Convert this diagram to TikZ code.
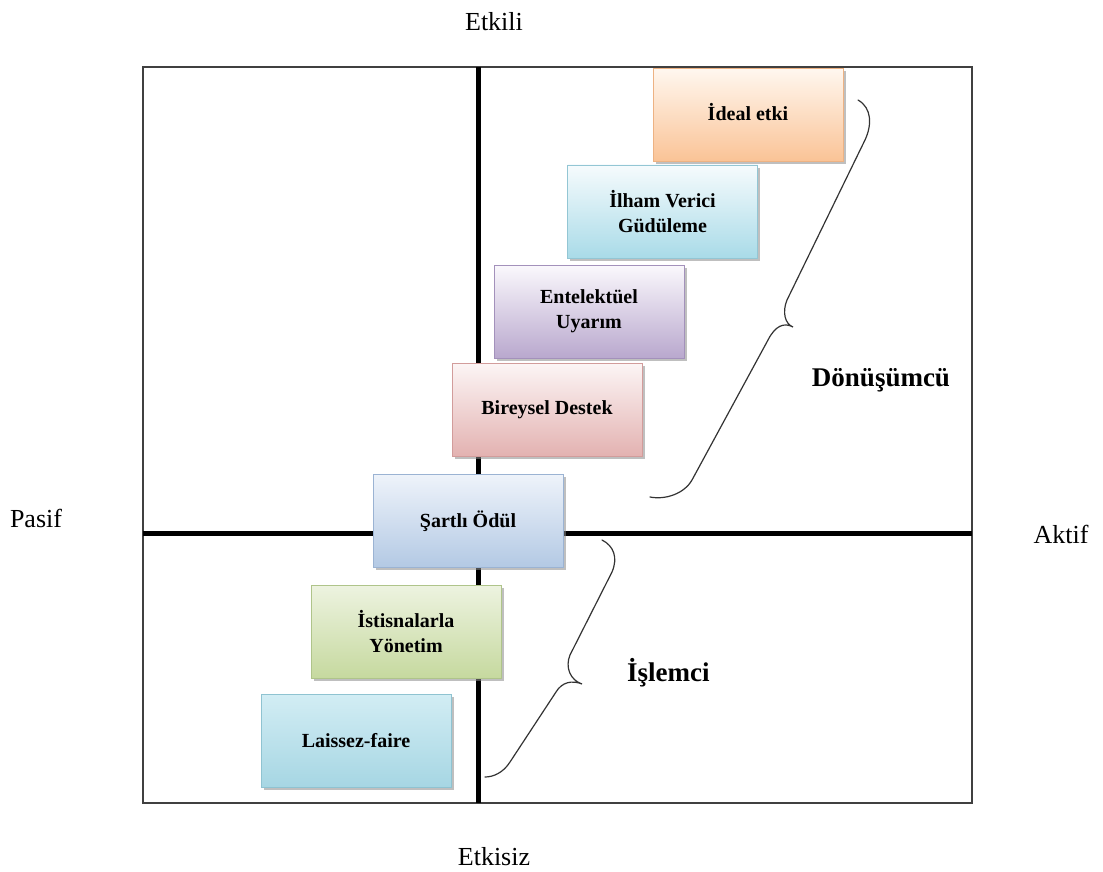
\documentclass[tikz,border=0pt]{standalone}
\usepackage{fontspec}
\setmainfont{Liberation Serif}
\usetikzlibrary{shadows}
\definecolor{orT}{HTML}{FFF7EF}\definecolor{orB}{HTML}{FAC396}\definecolor{orD}{HTML}{EDB283}
\definecolor{cyT}{HTML}{F6FBFD}\definecolor{cyB}{HTML}{A9DBE8}\definecolor{cyD}{HTML}{93C6D4}
\definecolor{puT}{HTML}{FAF8FC}\definecolor{puB}{HTML}{B9A8CE}\definecolor{puD}{HTML}{A391BB}
\definecolor{piT}{HTML}{FCF5F5}\definecolor{piB}{HTML}{E3B2B1}\definecolor{piD}{HTML}{D29C9B}
\definecolor{blT}{HTML}{EEF3FA}\definecolor{blB}{HTML}{B3C9E4}\definecolor{blD}{HTML}{9BB3D3}
\definecolor{grT}{HTML}{EDF3E0}\definecolor{grB}{HTML}{C6D99F}\definecolor{grD}{HTML}{AFC48A}
\definecolor{lfT}{HTML}{D2EDF4}\definecolor{lfB}{HTML}{A6D6E3}\definecolor{lfD}{HTML}{8FC3D1}
\begin{document}
\begin{tikzpicture}[x=1pt,y=-1pt,
  box/.style={minimum width=190pt, minimum height=93pt, inner sep=0pt, align=center,
    font=\fontsize{20}{25}\selectfont\bfseries, line width=0.8pt,
    drop shadow={shadow xshift=2.5pt, shadow yshift=-2.5pt, fill=black!45, opacity=0.55}},
  idealbox/.style={box, top color=orT, bottom color=orB, draw=orD},
  ilhambox/.style={box, top color=cyT, bottom color=cyB, draw=cyD},
  entelbox/.style={box, top color=puT, bottom color=puB, draw=puD},
  bireybox/.style={box, top color=piT, bottom color=piB, draw=piD},
  sartbox/.style={box, top color=blT, bottom color=blB, draw=blD},
  istisbox/.style={box, top color=grT, bottom color=grB, draw=grD},
  laissbox/.style={box, top color=lfT, bottom color=lfB, draw=lfD},
  axislabel/.style={font=\fontsize{26}{30}\selectfont, inner sep=0pt},
  grouplabel/.style={font=\fontsize{27}{30}\selectfont\bfseries, inner sep=0pt},
  bracestyle/.style={line width=1.2pt, black!80, line cap=round},
  axisline/.style={line width=5pt, black}]
\fill[white] (0,0) rectangle (1103,872);
\useasboundingbox (0,0) rectangle (1103,872);
% frame and axes
\draw[line width=1.4pt, black!75] (143,67) rectangle (972,803);
\draw[axisline] (478,67) -- (478,803);
\draw[axisline] (143,533) -- (972,533);
% boxes
\node[idealbox] (ideal) at (748,115) {\raisebox{7pt}{İdeal etki}};
\node[ilhambox] (ilham) at (662.5,211.5) {İlham Verici\\Güdüleme};
\node[entelbox] (entel) at (589,311.5) {Entelektüel\\Uyarım};
\node[bireybox] (birey) at (547,409.5) {Bireysel Destek};
\node[sartbox] (sart) at (468,521) {Şartlı Ödül};
\node[istisbox] (istis) at (406,631.5) {İstisnalarla\\Yönetim};
\node[laissbox] (laiss) at (356,741) {Laissez-faire};
% axis labels
\node[axislabel] (etkili) at (494,22) {Etkili};
\node[axislabel] (etkisiz) at (494,857) {Etkisiz};
\node[axislabel] (pasif) at (36,518) {Pasif};
\node[axislabel] (aktif) at (1061,534) {Aktif};
% braces
\draw[bracestyle] (858,100) .. controls (872,108) and (872,125) .. (865,140)
  -- (787,300) .. controls (782,312) and (785,324) .. (793,327)
  .. controls (784,322) and (775,326) .. (768,340)
  -- (692,480) .. controls (684,494) and (665,500) .. (650,497);
\draw[bracestyle] (602,540) .. controls (614,546) and (618,558) .. (612,572)
  -- (570,655) .. controls (565,667) and (570,680) .. (582,684)
  .. controls (572,680) and (562,682) .. (556,692)
  -- (510,762) .. controls (503,773) and (493,777) .. (485,777);
% group labels
\node[grouplabel] (donusum) at (881,380) {Dönüşümcü};
\node[grouplabel, anchor=west] (islemci) at (627,673) {İşlemci};
\end{tikzpicture}
\end{document}
